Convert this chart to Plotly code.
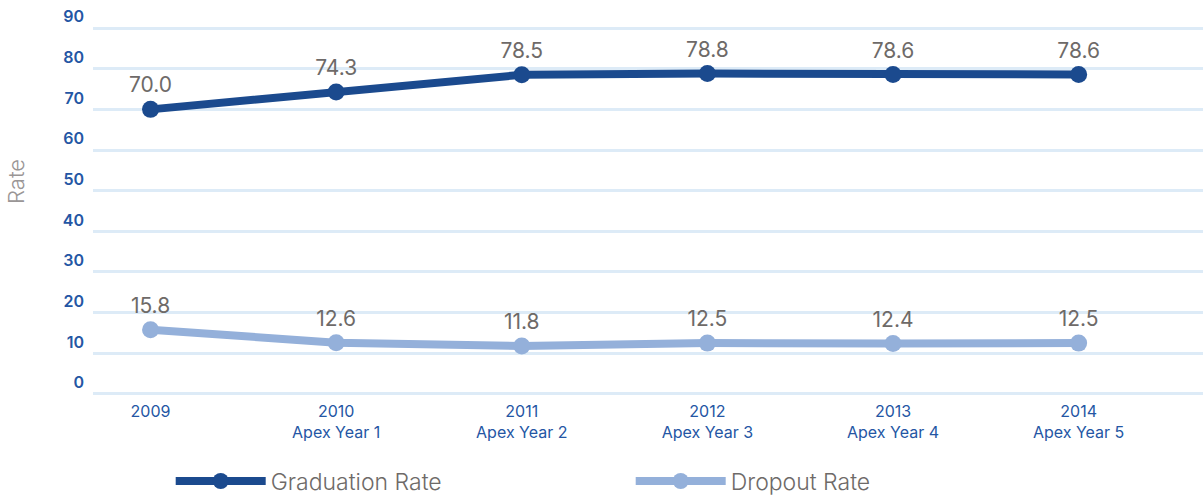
import plotly.graph_objects as go

# Academic years and the two rates tracked for each
years = ["2009", "2010<br>Apex Year 1", "2011<br>Apex Year 2",
         "2012<br>Apex Year 3", "2013<br>Apex Year 4", "2014<br>Apex Year 5"]
graduation_rate = [70.0, 74.3, 78.5, 78.8, 78.6, 78.6]
dropout_rate = [15.8, 12.6, 11.8, 12.5, 12.4, 12.5]
y_ticks = [0, 10, 20, 30, 40, 50, 60, 70, 80, 90]

DARK = "#1B4A8E"
LIGHT = "#94B0DA"
TEXT_GREY = "#6E6A68"
TICK_BLUE = "#2456A4"
FONT = "Inter, Lato, sans-serif"

fig = go.Figure()
for name, vals, color in [("Graduation Rate", graduation_rate, DARK),
                          ("Dropout Rate", dropout_rate, LIGHT)]:
    fig.add_trace(go.Scatter(
        x=years, y=vals, name=name, mode="lines+markers+text",
        line=dict(color=color, width=8),
        marker=dict(color=color, size=17),
        text=[f"{v:.1f}" for v in vals], textposition="top center",
        textfont=dict(family=FONT, size=21, color=TEXT_GREY),
        cliponaxis=False,
    ))

fig.update_layout(
    width=1203, height=500,
    margin=dict(l=93, r=0, t=24, b=102, autoexpand=False),
    paper_bgcolor="white", plot_bgcolor="white",
    showlegend=True,
    legend=dict(orientation="h", x=0.07, xanchor="left", y=-0.222, yanchor="middle",
                font=dict(family=FONT, size=23, color=TEXT_GREY, weight=300),
                entrywidth=355, itemwidth=90),
    xaxis=dict(type="category", range=[-0.31, 5.67], showgrid=False,
               showline=False, zeroline=False, ticks="", automargin=False,
               ticklabelstandoff=2,
               tickfont=dict(family=FONT, size=16, color=TICK_BLUE)),
    yaxis=dict(range=[-1, 91], tickvals=y_ticks, showgrid=True, automargin=False,
               gridcolor="#DDEBF7", gridwidth=2.5, zeroline=False, showline=False,
               ticks="", ticklabelposition="outside top", ticklabelstandoff=8,
               tickfont=dict(family=FONT, size=16, color=TICK_BLUE, weight=600)),
    annotations=[dict(text="Rate", textangle=-90, xref="paper", yref="paper",
                      x=-0.083, y=0.58, showarrow=False,
                      font=dict(family=FONT, size=22, color="#9A9696", weight=300))],
)

fig.write_html("out.html")
